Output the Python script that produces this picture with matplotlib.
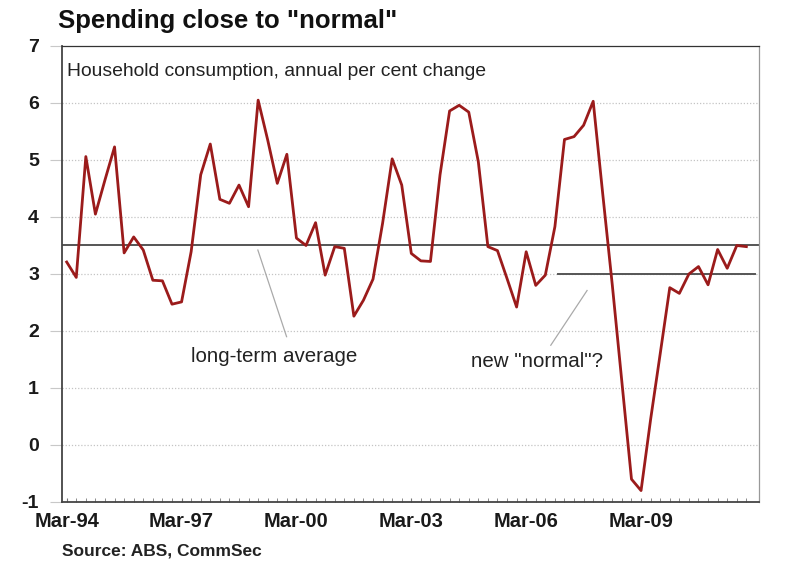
import numpy as np
import matplotlib.pyplot as plt

plt.rcParams['font.family'] = ['Liberation Sans', 'DejaVu Sans']
plt.rcParams['axes.unicode_minus'] = False

# household consumption, annual % change, quarterly Mar-94 .. Dec-11
valores = [3.21, 2.94, 5.06, 4.05, 4.65, 5.23, 3.37, 3.65, 3.42, 2.89,
           2.88, 2.47, 2.51, 3.39, 4.74, 5.28, 4.31, 4.24, 4.56, 4.18,
           6.05, 5.35, 4.59, 5.10, 3.63, 3.50, 3.90, 2.98, 3.48, 3.45,
           2.26, 2.54, 2.91, 3.89, 5.02, 4.56, 3.36, 3.23, 3.22, 4.74,
           5.86, 5.96, 5.84, 4.97, 3.48, 3.41, 2.92, 2.42, 3.39, 2.80,
           2.98, 3.83, 5.36, 5.41, 5.61, 6.03, 4.40, 2.80, 1.10, -0.60,
           -0.80, 0.45, 1.60, 2.76, 2.66, 3.00, 3.13, 2.81, 3.43, 3.10,
           3.50, 3.48]
anios = list(range(94, 100)) + list(range(0, 12))
trimestres = ['%s-%02d' % (m, a) for a in anios for m in ['Mar', 'Jun', 'Sep', 'Dec']]
promedio = 3.5
normal = 3.0
inicio_normal = 51.3   # quarter index where the "new normal" line starts

x = np.arange(len(valores))

fig = plt.figure(figsize=(8, 5.75), dpi=100)
ax = fig.add_axes([0.0775, 0.127, 0.871, 0.793])

# lineas de referencia
ax.axhline(promedio, color='#555555', lw=1.4, zorder=2)
ax.plot([inicio_normal, x[-1] + 0.9], [normal, normal], color='#555555', lw=1.4, zorder=2)

ax.plot(x, valores, color='#9b1b1b', lw=2.0, zorder=3)

ax.set_xlim(-0.49, 72.3)
ax.set_ylim(-1, 7)
ax.set_yticks(range(-1, 8))
ax.set_xticks(x[::12])
ax.set_xticklabels(trimestres[::12])
ax.set_xticks(x, minor=True)

for v in range(0, 7):
    ax.axhline(v, color='#c4c4c4', lw=0.9, ls=(0, (1, 1.5)), zorder=1)

ax.tick_params(axis='y', length=8.6, color='#c8c8c8', width=0.8, pad=8,
               labelsize=14, labelcolor='#1a1a1a')
ax.tick_params(axis='x', which='major', direction='in', length=3, color='#777777',
               pad=7, labelsize=14.5, labelcolor='#1a1a1a')
ax.tick_params(axis='x', which='minor', direction='in', length=3, color='#777777')
for lab in ax.get_xticklabels() + ax.get_yticklabels():
    lab.set_fontweight('bold')

for lado in ['left', 'bottom']:
    ax.spines[lado].set_color('#444444')
    ax.spines[lado].set_linewidth(1.3)
ax.spines['top'].set_color('#333333')
ax.spines['top'].set_linewidth(0.9)
ax.spines['right'].set_color('#999999')
ax.spines['right'].set_linewidth(0.9)

ax.text(0.007, 0.963, 'Household consumption, annual per cent change',
        transform=ax.transAxes, ha='left', va='top', fontsize=13.9, color='#222222')

# anotaciones
ax.plot([19.97, 22.97], [3.42, 1.90], color='#aaaaaa', lw=0.9)
ax.text(21.65, 1.55, 'long-term average', ha='center', va='center',
        fontsize=14.8, color='#222222')
ax.plot([54.36, 50.57], [2.71, 1.75], color='#aaaaaa', lw=0.9)
ax.text(49.16, 1.46, 'new "normal"?', ha='center', va='center',
        fontsize=14.8, color='#222222')

fig.text(0.073, 0.964, 'Spending close to "normal"', ha='left', va='center',
         fontsize=18.5, fontweight='bold', color='#111111')
fig.text(0.078, 0.042, 'Source: ABS, CommSec', ha='left', va='center',
         fontsize=12.5, fontweight='bold', color='#222222')

fig.savefig('out.png', dpi=100)
